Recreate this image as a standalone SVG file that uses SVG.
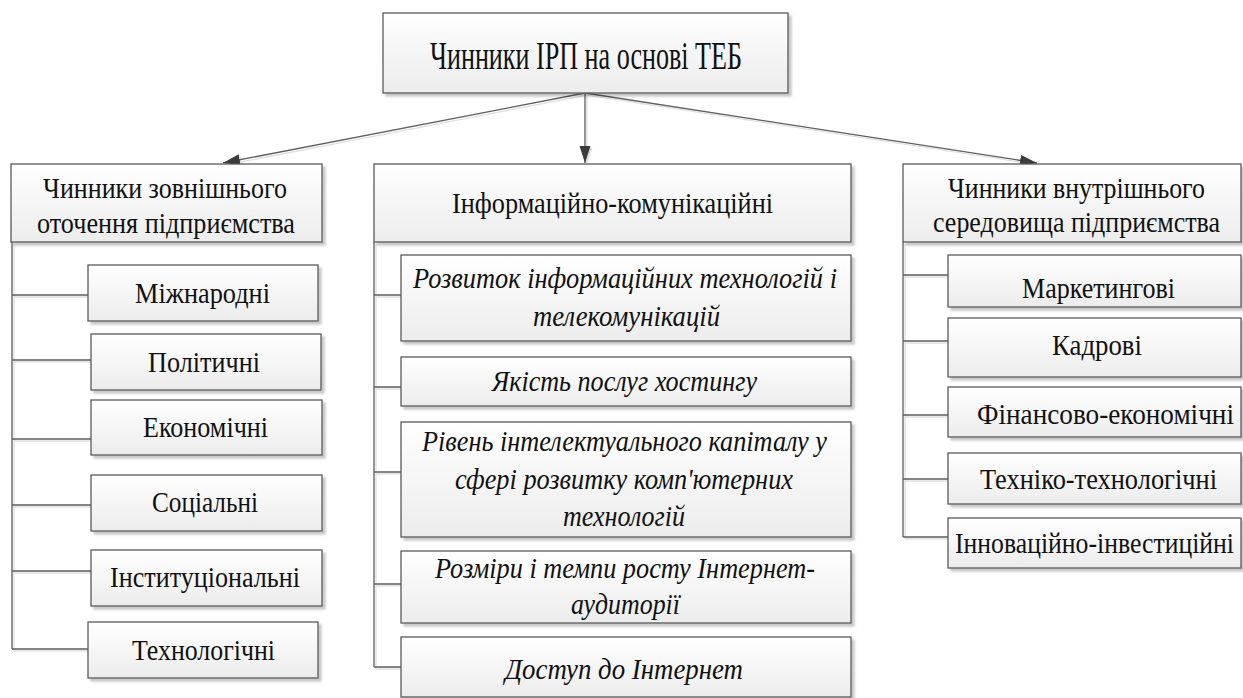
<svg xmlns="http://www.w3.org/2000/svg" width="1243" height="698" viewBox="0 0 1243 698">
<style>
.box{fill:url(#g);stroke:#5a5a5a;stroke-width:1.3;filter:url(#sh)}
.t{font-family:"Liberation Serif","Times New Roman",serif;font-size:27px;fill:#111}
.i{font-style:italic}
.top{font-size:34px}
.ln{stroke:#5e5e5e;stroke-width:1.3;fill:none}
.con{filter:url(#lsh)}
</style>
<defs>
<linearGradient id="g" x1="0" y1="0" x2="0" y2="1">
<stop offset="0" stop-color="#ffffff"/>
<stop offset="1" stop-color="#ececec"/>
</linearGradient>
<filter id="sh" x="-5%" y="-10%" width="115%" height="130%">
<feDropShadow dx="3" dy="3" stdDeviation="1" flood-color="#000" flood-opacity="0.22"/>
</filter>
<filter id="lsh" x="-5%" y="-5%" width="110%" height="110%">
<feDropShadow dx="2" dy="2" stdDeviation="0.6" flood-color="#000" flood-opacity="0.12"/>
</filter>
<marker id="ah" markerUnits="userSpaceOnUse" markerWidth="18" markerHeight="12" refX="17" refY="6" orient="auto">
<path d="M0,0.5 L17,6 L0,11.5 Z" fill="#3a3a3a"/>
</marker>
</defs>

<g id="connectors" class="con">
<path class="ln" d="M585,93 L585,163" marker-end="url(#ah)"/>
<path class="ln" d="M585,93 L223,163" marker-end="url(#ah)"/>
<path class="ln" d="M585,93 L1037,163" marker-end="url(#ah)"/>
<path class="ln" d="M12,242 V649 M12,295 H88 M12,360 H91 M12,439 H91 M12,505 H91 M12,571 H91 M12,649 H88"/>
<path class="ln" d="M374,242 V667 M374,295 H401 M374,387 H401 M374,472 H401 M374,584 H401 M374,667 H401"/>
<path class="ln" d="M903,242 V537 M903,275 H948 M903,341 H948 M903,415 H948 M903,479 H948 M903,537 H948"/>
</g>

<g id="root">
<rect class="box" x="383" y="13" width="405" height="80"/>
<text class="t top" transform="matrix(1,0,0,1.18,0,-12.4)" x="430" y="69" textLength="312" lengthAdjust="spacingAndGlyphs">Чинники ІРП на основі ТЕБ</text>
</g>

<g id="external">
<rect class="box" x="11" y="164" width="311" height="78"/>
<text class="t" transform="matrix(1,0,0,1.12,0,-23.76)" x="43" y="198" textLength="244" lengthAdjust="spacingAndGlyphs">Чинники зовнішнього</text>
<text class="t" transform="matrix(1,0,0,1.12,0,-27.96)" x="37" y="233" textLength="258" lengthAdjust="spacingAndGlyphs">оточення підприємства</text>
</g>

<g id="ict">
<rect class="box" x="374" y="164" width="477" height="78"/>
<text class="t" transform="matrix(1,0,0,1.12,0,-25.56)" x="452" y="213" textLength="321" lengthAdjust="spacingAndGlyphs">Інформаційно-комунікаційні</text>
</g>

<g id="internal">
<rect class="box" x="903" y="164" width="338" height="78"/>
<text class="t" transform="matrix(1,0,0,1.12,0,-23.76)" x="948" y="198" textLength="257" lengthAdjust="spacingAndGlyphs">Чинники внутрішнього</text>
<text class="t" transform="matrix(1,0,0,1.12,0,-27.84)" x="933" y="232" textLength="287" lengthAdjust="spacingAndGlyphs">середовища підприємства</text>
</g>

<g id="ext-1"><rect class="box" x="88" y="265" width="230" height="56"/>
<text class="t" transform="matrix(1,0,0,1.12,0,-36.36)" x="135" y="303" textLength="135" lengthAdjust="spacingAndGlyphs">Міжнародні</text></g>
<g id="ext-2"><rect class="box" x="91" y="334" width="230" height="56"/>
<text class="t" transform="matrix(1,0,0,1.12,0,-44.64)" x="148" y="372" textLength="112" lengthAdjust="spacingAndGlyphs">Політичні</text></g>
<g id="ext-3"><rect class="box" x="91" y="400" width="231" height="55"/>
<text class="t" transform="matrix(1,0,0,1.12,0,-52.44)" x="143" y="437" textLength="125" lengthAdjust="spacingAndGlyphs">Економічні</text></g>
<g id="ext-4"><rect class="box" x="91" y="475" width="231" height="56"/>
<text class="t" transform="matrix(1,0,0,1.12,0,-61.44)" x="152" y="512" textLength="106" lengthAdjust="spacingAndGlyphs">Соціальні</text></g>
<g id="ext-5"><rect class="box" x="91" y="550" width="231" height="56"/>
<text class="t" transform="matrix(1,0,0,1.12,0,-70.44)" x="110" y="587" textLength="190" lengthAdjust="spacingAndGlyphs">Інституціональні</text></g>
<g id="ext-6"><rect class="box" x="88" y="622" width="230" height="56"/>
<text class="t" transform="matrix(1,0,0,1.12,0,-79.2)" x="132" y="660" textLength="143" lengthAdjust="spacingAndGlyphs">Технологічні</text></g>

<g id="ict-1"><rect class="box" x="401" y="255" width="450" height="86"/>
<text class="t i" transform="matrix(1,0,0,1.12,0,-34.56)" x="413" y="288" textLength="424" lengthAdjust="spacingAndGlyphs">Розвиток інформаційних технологій і</text>
<text class="t i" transform="matrix(1,0,0,1.12,0,-39.12)" x="533" y="326" textLength="187" lengthAdjust="spacingAndGlyphs">телекомунікацій</text></g>
<g id="ict-2"><rect class="box" x="401" y="357" width="450" height="49"/>
<text class="t i" transform="matrix(1,0,0,1.12,0,-46.92)" x="492" y="391" textLength="265" lengthAdjust="spacingAndGlyphs">Якість послуг хостингу</text></g>
<g id="ict-3"><rect class="box" x="401" y="422" width="450" height="115"/>
<text class="t i" transform="matrix(1,0,0,1.12,0,-54.12)" x="422" y="451" textLength="405" lengthAdjust="spacingAndGlyphs">Рівень інтелектуального капіталу у</text>
<text class="t i" transform="matrix(1,0,0,1.12,0,-58.68)" x="455" y="489" textLength="338" lengthAdjust="spacingAndGlyphs">сфері розвитку комп'ютерних</text>
<text class="t i" transform="matrix(1,0,0,1.12,0,-63.12)" x="563" y="526" textLength="122" lengthAdjust="spacingAndGlyphs">технологій</text></g>
<g id="ict-4"><rect class="box" x="401" y="551" width="450" height="72"/>
<text class="t i" transform="matrix(1,0,0,1.12,0,-69.36)" x="435" y="578" textLength="380" lengthAdjust="spacingAndGlyphs">Розміри і темпи росту Інтернет-</text>
<text class="t i" transform="matrix(1,0,0,1.12,0,-73.68)" x="571" y="614" textLength="109" lengthAdjust="spacingAndGlyphs">аудиторії</text></g>
<g id="ict-5"><rect class="box" x="401" y="637" width="450" height="60"/>
<text class="t i" transform="matrix(1,0,0,1.12,0,-81.48)" x="505" y="679" textLength="238" lengthAdjust="spacingAndGlyphs">Доступ до  Інтернет</text></g>

<g id="int-1"><rect class="box" x="948" y="255" width="293" height="52"/>
<text class="t" transform="matrix(1,0,0,1.12,0,-35.76)" x="1022" y="298" textLength="153" lengthAdjust="spacingAndGlyphs">Маркетингові</text></g>
<g id="int-2"><rect class="box" x="948" y="318" width="293" height="59"/>
<text class="t" transform="matrix(1,0,0,1.12,0,-42.6)" x="1052" y="355" textLength="90" lengthAdjust="spacingAndGlyphs">Кадрові</text></g>
<g id="int-3"><rect class="box" x="948" y="387" width="293" height="50"/>
<text class="t" transform="matrix(1,0,0,1.12,0,-50.88)" x="977" y="424" textLength="257" lengthAdjust="spacingAndGlyphs">Фінансово-економічні</text></g>
<g id="int-4"><rect class="box" x="948" y="453" width="293" height="51"/>
<text class="t" transform="matrix(1,0,0,1.12,0,-58.68)" x="980" y="489" textLength="237" lengthAdjust="spacingAndGlyphs">Техніко-технологічні</text></g>
<g id="int-5"><rect class="box" x="948" y="518" width="293" height="50"/>
<text class="t" transform="matrix(1,0,0,1.12,0,-66.36)" x="955" y="553" textLength="279" lengthAdjust="spacingAndGlyphs">Інноваційно-інвестиційні</text></g>
</svg>
